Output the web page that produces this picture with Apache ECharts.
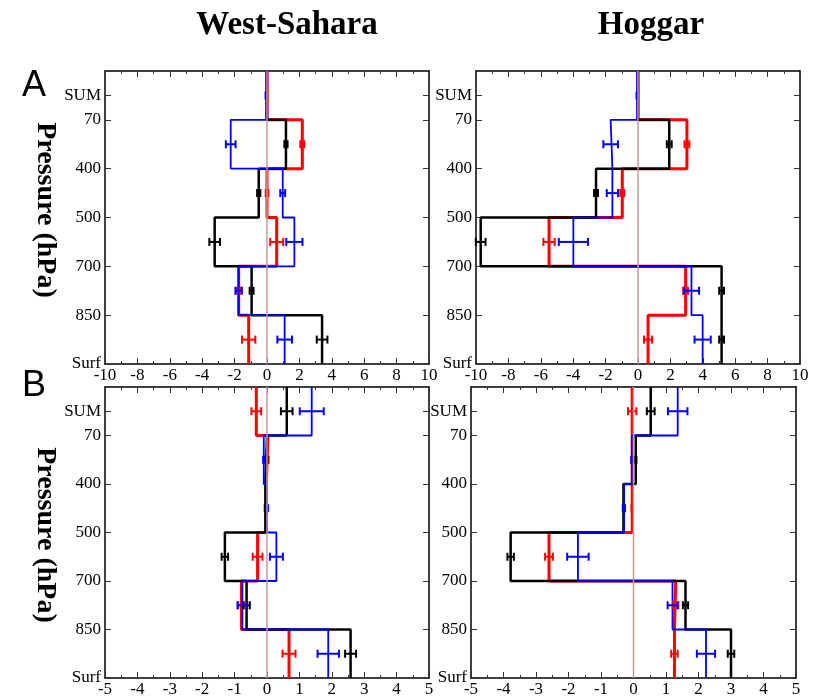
<!DOCTYPE html>
<html><head><meta charset="utf-8">
<script src="https://cdn.jsdelivr.net/npm/echarts@6/dist/echarts.min.js"></script>
<style>html,body{margin:0;padding:0;background:#fff}#c{width:825px;height:698px}</style>
</head><body><div id="c"></div><script>
// Vertical levels (axis positions) and their labels
const levelLabels = ['Surf', '850', '700', '500', '400', '70', 'SUM'];
const levelTicks = [0, 1, 2, 3, 4, 5, 5.5];
const layerMid = [0.5, 1.5, 2.5, 3.5, 4.5, 5.5];
// Layer order: Surf-850, 850-700, 700-500, 500-400, 400-70, SUM

// Panel A, West-Sahara
const wsA_black = [3.4, -0.95, -3.23, -0.51, 1.17, 0.0];
const wsA_blackErr = [0.33, 0.12, 0.33, 0.1, 0.1, 0.0];
const wsA_red = [-1.13, -1.75, 0.6, 0.0, 2.18, 0.0];
const wsA_redErr = [0.41, 0.1, 0.4, 0.08, 0.12, 0.0];
const wsA_blue = [1.09, -1.75, 1.69, 0.97, -2.24, -0.05];
const wsA_blueErr = [0.45, 0.2, 0.5, 0.15, 0.3, 0.04];

// Panel A, Hoggar
const hgA_black = [5.16, 5.16, -9.71, -2.59, 1.93, 0.0];
const hgA_blackErr = [0.15, 0.15, 0.3, 0.12, 0.15, 0.0];
const hgA_red = [0.62, 2.94, -5.49, -0.97, 3.02, 0.0];
const hgA_redErr = [0.25, 0.15, 0.35, 0.12, 0.15, 0.0];
const hgA_blue = [3.99, 3.3, -3.99, -1.58, -1.69, -0.05];
const hgA_blueErr = [0.5, 0.47, 0.9, 0.35, 0.45, 0.04];

// Panel B, West-Sahara
const wsB_black = [2.58, -0.63, -1.3, -0.05, 0.0, 0.61];
const wsB_blackErr = [0.17, 0.1, 0.1, 0.02, 0.02, 0.18];
const wsB_red = [0.68, -0.79, -0.29, -0.02, 0.03, -0.33];
const wsB_redErr = [0.2, 0.1, 0.15, 0.02, 0.02, 0.15];
const wsB_blue = [1.89, -0.76, 0.29, 0.0, -0.1, 1.38];
const wsB_blueErr = [0.33, 0.15, 0.2, 0.03, 0.02, 0.37];

// Panel B, Hoggar
const hgB_black = [3.0, 1.6, -3.78, -0.31, 0.07, 0.53];
const hgB_blackErr = [0.1, 0.08, 0.1, 0.02, 0.02, 0.12];
const hgB_red = [1.26, 1.3, -2.6, -0.04, -0.04, -0.04];
const hgB_redErr = [0.1, 0.08, 0.12, 0.02, 0.02, 0.13];
const hgB_blue = [2.23, 1.2, -1.71, -0.29, -0.05, 1.36];
const hgB_blueErr = [0.28, 0.15, 0.33, 0.03, 0.02, 0.3];

const colBlack = '#000000', colRed = '#ff0000', colBlue = '#0000ff', colZero = '#c49a9a';
const serif = '"Liberation Serif", "DejaVu Serif", serif';

// drawing order: red, black, blue
const panels = [
  { grid: { left: 105, top: 71, width: 324, height: 293 }, xmin: -10, xmax: 10, xint: 2,
    sets: [[wsA_red, wsA_redErr, colRed, 3], [wsA_black, wsA_blackErr, colBlack, 2.5], [wsA_blue, wsA_blueErr, colBlue, 1.8]] },
  { grid: { left: 476, top: 71, width: 324, height: 293 }, xmin: -10, xmax: 10, xint: 2,
    sets: [[hgA_red, hgA_redErr, colRed, 3], [hgA_black, hgA_blackErr, colBlack, 2.5], [hgA_blue, hgA_blueErr, colBlue, 1.8]] },
  { grid: { left: 105, top: 387, width: 324, height: 291 }, xmin: -5, xmax: 5, xint: 1,
    sets: [[wsB_red, wsB_redErr, colRed, 3], [wsB_black, wsB_blackErr, colBlack, 2.5], [wsB_blue, wsB_blueErr, colBlue, 1.8]] },
  { grid: { left: 471, top: 387, width: 325, height: 291 }, xmin: -5, xmax: 5, xint: 1,
    sets: [[hgB_red, hgB_redErr, colRed, 3], [hgB_black, hgB_blackErr, colBlack, 2.5], [hgB_blue, hgB_blueErr, colBlue, 1.8]] }
];

const grid = [], xAxis = [], yAxis = [], series = [];
const axisLine = { show: true, onZero: false, lineStyle: { color: '#000', width: 1.5 } };

panels.forEach((p, gi) => {
  grid.push(p.grid);
  xAxis.push({ type: 'value', gridIndex: gi, position: 'bottom', min: p.xmin, max: p.xmax, interval: p.xint,
    axisLine: axisLine,
    axisTick: { show: true, inside: true, length: 6, lineStyle: { color: '#333', width: 1 } },
    minorTick: { show: true, splitNumber: 2, length: 3, lineStyle: { color: '#333', width: 1 } },
    splitLine: { show: false }, minorSplitLine: { show: false },
    axisLabel: { show: true, color: '#000', fontFamily: serif, fontSize: 17, margin: 3 } });
  xAxis.push({ type: 'value', gridIndex: gi, position: 'top', min: p.xmin, max: p.xmax, interval: p.xint,
    axisLine: axisLine,
    axisTick: { show: true, inside: true, length: 6, lineStyle: { color: '#333', width: 1 } },
    minorTick: { show: true, splitNumber: 2, length: 3, lineStyle: { color: '#333', width: 1 } },
    splitLine: { show: false }, minorSplitLine: { show: false },
    axisLabel: { show: false } });
  yAxis.push({ type: 'value', gridIndex: gi, position: 'left', min: 0, max: 6,
    axisLine: axisLine,
    axisTick: { show: true, inside: true, length: 6, customValues: levelTicks, lineStyle: { color: '#333', width: 1 } },
    splitLine: { show: false },
    axisLabel: { show: true, customValues: levelTicks, color: '#000', fontFamily: serif, fontSize: 17, margin: 4,
      formatter: v => { const i = levelTicks.indexOf(v); return i >= 0 ? levelLabels[i] : ''; } } });
  yAxis.push({ type: 'value', gridIndex: gi, position: 'right', min: 0, max: 6,
    axisLine: axisLine,
    axisTick: { show: true, inside: true, length: 6, customValues: levelTicks, lineStyle: { color: '#333', width: 1 } },
    splitLine: { show: false }, axisLabel: { show: false } });

  const xi = gi * 2, yi = gi * 2;
  p.sets.forEach(([vals, errs, col, w]) => {
    const pts = [];
    vals.forEach((v, i) => { pts.push([v, i]); pts.push([v, i + 1]); });
    series.push({ type: 'line', xAxisIndex: xi, yAxisIndex: yi, data: pts, showSymbol: false, symbol: 'none',
      lineStyle: { color: col, width: w }, z: 2, silent: true });
  });
  p.sets.forEach(([vals, errs, col, w]) => {
    series.push({ type: 'custom', xAxisIndex: xi, yAxisIndex: yi, z: 3, silent: true,
      data: vals.map((v, i) => [v, errs[i], layerMid[i]]),
      renderItem: (params, api) => {
        const x = api.value(0), e = api.value(1), y = api.value(2);
        const a = api.coord([x - e, y]), b = api.coord([x + e, y]);
        const h = 4, st = { stroke: col, lineWidth: 2 };
        return { type: 'group', children: [
          { type: 'line', shape: { x1: a[0], y1: a[1], x2: b[0], y2: b[1] }, style: st },
          { type: 'line', shape: { x1: a[0], y1: a[1] - h, x2: a[0], y2: a[1] + h }, style: st },
          { type: 'line', shape: { x1: b[0], y1: b[1] - h, x2: b[0], y2: b[1] + h }, style: st }
        ] };
      } });
  });
  series.push({ type: 'line', xAxisIndex: xi, yAxisIndex: yi, data: [[0, 0], [0, 6]], showSymbol: false, symbol: 'none',
    lineStyle: { color: colZero, width: 1.5 }, z: 4, silent: true });
});

const chart = echarts.init(document.getElementById('c'), null, { renderer: 'canvas' });
chart.setOption({
  animation: false,
  backgroundColor: '#fff',
  grid, xAxis, yAxis, series,
  graphic: [
    { type: 'text', style: { text: 'West-Sahara', x: 287, y: 25, textAlign: 'center', textVerticalAlign: 'middle',
      fontFamily: serif, fontWeight: 'bold', fontSize: 33, fill: '#000' } },
    { type: 'text', style: { text: 'Hoggar', x: 651, y: 25, textAlign: 'center', textVerticalAlign: 'middle',
      fontFamily: serif, fontWeight: 'bold', fontSize: 33, fill: '#000' } },
    { type: 'text', style: { text: 'A', x: 34, y: 86, textAlign: 'center', textVerticalAlign: 'middle',
      fontFamily: '"Liberation Sans", Arial, sans-serif', fontSize: 36, fill: '#000' } },
    { type: 'text', style: { text: 'B', x: 34, y: 386, textAlign: 'center', textVerticalAlign: 'middle',
      fontFamily: '"Liberation Sans", Arial, sans-serif', fontSize: 36, fill: '#000' } },
    { type: 'text', x: 45, y: 210, rotation: -Math.PI / 2, style: { text: 'Pressure (hPa)', x: 0, y: 0, textAlign: 'center', textVerticalAlign: 'middle',
      fontFamily: serif, fontWeight: 'bold', fontSize: 28, fill: '#000' } },
    { type: 'text', x: 45, y: 535, rotation: -Math.PI / 2, style: { text: 'Pressure (hPa)', x: 0, y: 0, textAlign: 'center', textVerticalAlign: 'middle',
      fontFamily: serif, fontWeight: 'bold', fontSize: 28, fill: '#000' } }
  ]
});
</script></body></html>
